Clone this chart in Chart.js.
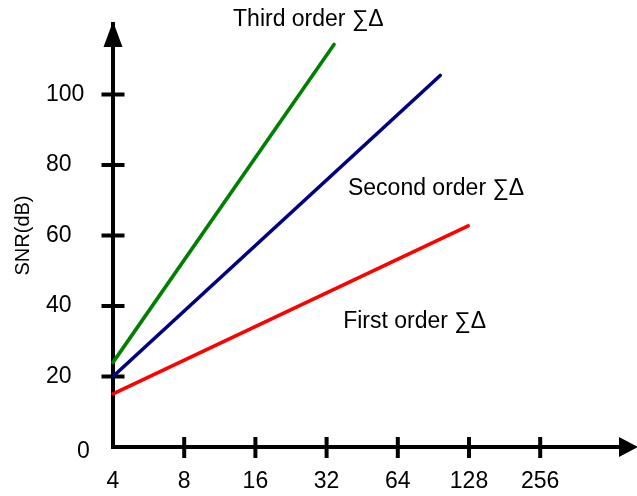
<!DOCTYPE html>
<html><head><meta charset="utf-8">
<script src="https://cdn.jsdelivr.net/npm/chart.js@4.4.1/dist/chart.umd.min.js"></script>
<style>html,body{margin:0;padding:0;background:#fff}#wrap{width:637px;height:496px}</style>
</head><body><div id="wrap"><canvas id="c" width="637" height="496"></canvas></div>
<script>
// ---- data ----
const xTickValues = [4, 8, 16, 32, 64, 128, 256];
const yTickValues = [20, 40, 60, 80, 100];
const seriesNames = ['First order ∑Δ', 'Second order ∑Δ', 'Third order ∑Δ'];
const firstOrderOSR = [4, 127];
const firstOrderSNR = [15.1, 62.7];
const secondOrderOSR = [4, 96.7];
const secondOrderSNR = [20, 105.4];
const thirdOrderOSR = [4, 34.4];
const thirdOrderSNR = [24, 114.2];
const yAxisTitle = 'SNR(dB)';
const originLabel = '0';

const FONT = "'Liberation Sans', Arial, sans-serif";
const pts = (xs, ys) => xs.map((x, i) => ({x: x, y: ys[i]}));

// label anchors in data coordinates (OSR, SNR)
const labelAnchors = [
  {text: seriesNames[2], x: 12.87, y: 121.1},
  {text: seriesNames[1], x: 39.4, y: 73.3},
  {text: seriesNames[0], x: 37.6, y: 35.6}
];

const decor = {
  id: 'decor',
  beforeDatasetsDraw(chart) {
    const {ctx, chartArea: a, scales: {x, y}} = chart;
    ctx.save();
    ctx.strokeStyle = '#000';
    ctx.fillStyle = '#000';
    ctx.lineWidth = 4;
    ctx.lineCap = 'butt';
    // corner patch
    ctx.fillRect(a.left - 2, a.bottom - 2, 4, 4);
    // tick marks crossing the axes
    yTickValues.forEach(v => {
      const py = y.getPixelForValue(v);
      ctx.beginPath(); ctx.moveTo(a.left - 11.5, py); ctx.lineTo(a.left + 11.5, py); ctx.stroke();
    });
    xTickValues.slice(1).forEach(v => {
      const px = x.getPixelForValue(v);
      ctx.beginPath(); ctx.moveTo(px, a.bottom - 10); ctx.lineTo(px, a.bottom + 11); ctx.stroke();
    });
    // arrow heads
    ctx.beginPath();
    ctx.moveTo(a.left, a.top - 2.5);
    ctx.lineTo(a.left + 9.5, a.top + 23);
    ctx.lineTo(a.left - 9.5, a.top + 23);
    ctx.closePath(); ctx.fill();
    ctx.beginPath();
    ctx.moveTo(a.right + 8, a.bottom);
    ctx.lineTo(a.right - 11, a.bottom - 10);
    ctx.lineTo(a.right - 11, a.bottom + 10);
    ctx.closePath(); ctx.fill();
    ctx.restore();
  },
  afterDraw(chart) {
    const {ctx, chartArea: a, scales: {x, y}} = chart;
    ctx.save();
    ctx.fillStyle = '#000';
    ctx.font = '23px ' + FONT;
    ctx.textBaseline = 'middle';
    ctx.textAlign = 'left';
    labelAnchors.forEach(l => {
      ctx.fillText(l.text, x.getPixelForValue(l.x), y.getPixelForValue(l.y));
    });
    ctx.fillText(originLabel, a.left - 36, y.getPixelForValue(0) + 5);
    ctx.restore();
  }
};

const ds = (name, xs, ys, color) => ({
  label: name, data: pts(xs, ys), showLine: true, borderColor: color, backgroundColor: color,
  borderWidth: 3.6, pointRadius: 0, borderCapStyle: 'round', clip: false, tension: 0
});

new Chart(document.getElementById('c'), {
  type: 'scatter',
  data: {
    datasets: [
      ds(seriesNames[0], firstOrderOSR, firstOrderSNR, '#ff0000'),
      ds(seriesNames[1], secondOrderOSR, secondOrderSNR, '#000080'),
      ds(seriesNames[2], thirdOrderOSR, thirdOrderSNR, '#008000')
    ]
  },
  options: {
    responsive: false,
    animation: false,
    devicePixelRatio: 1,
    layout: {padding: {left: 46, top: 24, right: 7, bottom: 0}},
    plugins: {legend: {display: false}, tooltip: {enabled: false}},
    scales: {
      x: {
        type: 'logarithmic', min: 4, max: 613.6,
        afterBuildTicks: s => { s.ticks = xTickValues.map(v => ({value: v})); },
        afterFit: s => { s.height = 49; },
        grid: {display: false, drawTicks: false, z: -1},
        border: {display: true, color: '#000', width: 4},
        ticks: {autoSkip: false, maxRotation: 0, padding: 21, color: '#000',
                font: {size: 23, family: FONT}, callback: v => String(v)}
      },
      y: {
        type: 'linear', min: 0, max: 120,
        afterBuildTicks: s => { s.ticks = yTickValues.map(v => ({value: v})); },
        afterFit: s => { s.width = 67; },
        grid: {display: false, drawTicks: false, z: -1},
        border: {display: true, color: '#000', width: 4},
        ticks: {crossAlign: 'far', color: '#000', font: {size: 23, family: FONT},
                callback: v => String(v)},
        title: {display: true, text: yAxisTitle, color: '#000',
                font: {size: 20, family: FONT}, padding: {top: -34.5, bottom: 0}}
      }
    }
  },
  plugins: [decor]
});
</script></body></html>
